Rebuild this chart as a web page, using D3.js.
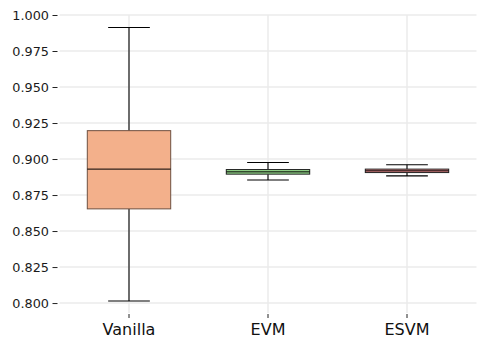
<!DOCTYPE html>
<html>
<head>
<meta charset="utf-8">
<script src="https://cdn.jsdelivr.net/npm/d3@7"></script>
<style>
  body { margin: 0; background: #fff; }
  svg { font-family: "DejaVu Sans", sans-serif; }
</style>
</head>
<body>
<svg id="chart" width="490" height="349"></svg>
<script>
var categories = ["Vanilla", "EVM", "ESVM"];
var whiskerLow = [0.8014, 0.8854, 0.8883];
var q1 = [0.8654, 0.8895, 0.8906];
var medians = [0.8930, 0.8911, 0.8918];
var q3 = [0.9197, 0.8927, 0.8930];
var whiskerHigh = [0.9913, 0.8976, 0.8960];
var fills = ["#f3b08b", "#93d68a", "#e8898b"];
var yTicks = [0.800, 0.825, 0.850, 0.875, 0.900, 0.925, 0.950, 0.975, 1.000];

var svg = d3.select("#chart");
var plotLeft = 59.5, plotRight = 476.5, plotTop = 15, plotBottom = 313;

var x = d3.scaleBand().domain(categories).range([plotLeft, plotRight]).paddingInner(0).paddingOuter(0);
var y = d3.scaleLinear().domain([0.7931, 1.0]).range([plotBottom, plotTop]);

// grid
svg.append("g").selectAll("line").data(yTicks).enter().append("line")
  .attr("x1", plotLeft).attr("x2", plotRight)
  .attr("y1", function (d) { return y(d); }).attr("y2", function (d) { return y(d); })
  .style("stroke", "#ebebeb").style("stroke-width", 1.5);
svg.append("g").selectAll("line").data(categories).enter().append("line")
  .attr("x1", function (d) { return x(d) + x.bandwidth() / 2; })
  .attr("x2", function (d) { return x(d) + x.bandwidth() / 2; })
  .attr("y1", plotTop).attr("y2", plotBottom)
  .style("stroke", "#ebebeb").style("stroke-width", 1.5);

// axes
var yAxis = svg.append("g").attr("transform", "translate(" + (plotLeft - 2) + ",0)")
  .call(d3.axisLeft(y).tickValues(yTicks).tickFormat(d3.format(".3f")).tickSize(5).tickPadding(3.5));
yAxis.attr("font-family", "DejaVu Sans").attr("font-size", null);
yAxis.select(".domain").remove();
yAxis.selectAll("text").style("font-size", "12.8px").style("fill", "#1a1a1a");
yAxis.selectAll("line").style("stroke", "#222");

var xAxis = svg.append("g").attr("transform", "translate(0," + (plotBottom + 1) + ")")
  .call(d3.axisBottom(x).tickSize(4).tickPadding(6));
xAxis.attr("font-family", "DejaVu Sans").attr("font-size", null);
xAxis.select(".domain").remove();
xAxis.selectAll("text").style("font-size", "16px").style("fill", "#111");
xAxis.selectAll("line").style("stroke", "#222");

// boxes
var boxW = x.bandwidth() * 0.6;
var capW = boxW * 0.5;
var g = svg.append("g").selectAll("g").data(categories).enter().append("g");
function cx(i) { return x(categories[i]) + x.bandwidth() / 2; }

g.append("line")
  .attr("x1", function (d, i) { return cx(i); }).attr("x2", function (d, i) { return cx(i); })
  .attr("y1", function (d, i) { return y(whiskerHigh[i]); }).attr("y2", function (d, i) { return y(q3[i]); })
  .style("stroke", "#000").style("stroke-width", 1.1);
g.append("line")
  .attr("x1", function (d, i) { return cx(i); }).attr("x2", function (d, i) { return cx(i); })
  .attr("y1", function (d, i) { return y(q1[i]); }).attr("y2", function (d, i) { return y(whiskerLow[i]); })
  .style("stroke", "#000").style("stroke-width", 1.1);
g.append("line")
  .attr("x1", function (d, i) { return cx(i) - capW / 2; }).attr("x2", function (d, i) { return cx(i) + capW / 2; })
  .attr("y1", function (d, i) { return y(whiskerHigh[i]); }).attr("y2", function (d, i) { return y(whiskerHigh[i]); })
  .style("stroke", "#000").style("stroke-width", 1.1);
g.append("line")
  .attr("x1", function (d, i) { return cx(i) - capW / 2; }).attr("x2", function (d, i) { return cx(i) + capW / 2; })
  .attr("y1", function (d, i) { return y(whiskerLow[i]); }).attr("y2", function (d, i) { return y(whiskerLow[i]); })
  .style("stroke", "#000").style("stroke-width", 1.1);
g.append("rect")
  .attr("x", function (d, i) { return cx(i) - boxW / 2; })
  .attr("width", boxW)
  .attr("y", function (d, i) { return y(q3[i]); })
  .attr("height", function (d, i) { return y(q1[i]) - y(q3[i]); })
  .style("fill", function (d, i) { return fills[i]; })
  .style("stroke", function (d, i) { return i === 0 ? "#6e5040" : "#222"; })
  .style("stroke-width", 1);
g.append("line")
  .attr("x1", function (d, i) { return cx(i) - boxW / 2; }).attr("x2", function (d, i) { return cx(i) + boxW / 2; })
  .attr("y1", function (d, i) { return y(medians[i]); }).attr("y2", function (d, i) { return y(medians[i]); })
  .style("stroke", "#000").style("stroke-width", 1);
</script>
</body>
</html>
